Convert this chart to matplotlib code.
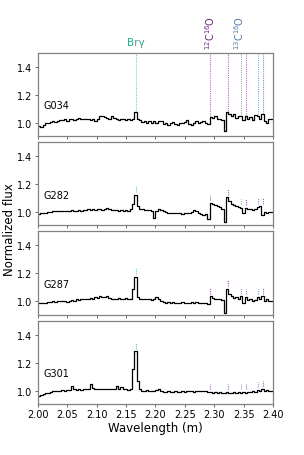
import numpy as np
import matplotlib
matplotlib.use("Agg")
import matplotlib.pyplot as plt
from matplotlib.transforms import blended_transform_factory

# wavelength sampling (micron)
wave = np.linspace(2.002, 2.398, 100)

names = ["G034", "G282", "G287", "G301"]

g034 = [0.975, 0.97, 0.985, 1.0, 0.995, 1.005, 1.01, 1.005, 1.015, 1.02,
        1.02, 1.025, 1.015, 1.025, 1.03, 1.02, 1.03, 1.035, 1.025, 1.03,
        1.025, 1.03, 1.02, 1.025, 1.01, 1.025, 1.045, 1.05, 1.04, 1.035,
        1.03, 1.045, 1.035, 1.025, 1.02, 1.03, 1.025, 1.02, 1.025, 1.02,
        1.03, 1.08, 1.03, 1.02, 1.005, 1.015, 1.0, 1.01, 0.995, 1.01,
        0.995, 1.015, 1.01, 0.99, 1.0, 0.985, 0.995, 1.005, 0.99, 0.985,
        1.0, 0.995, 1.005, 1.02, 0.99, 0.985, 0.995, 1.01, 1.0, 1.005,
        1.01, 1.0, 0.99, 1.04, 1.035, 1.045, 1.03, 1.025, 1.02, 0.94,
        1.08, 1.065, 1.05, 1.06, 1.035, 1.045, 1.05, 1.02, 1.045, 1.03,
        1.04, 1.02, 1.055, 1.05, 1.03, 1.06, 1.01, 1.0, 1.03, 1.025]

g282 = [0.985, 0.99, 0.995, 0.995, 1.0, 1.0, 1.005, 1.005, 1.01, 1.005,
        1.01, 1.005, 1.01, 1.01, 1.015, 1.01, 1.01, 1.015, 1.01, 1.015,
        1.015, 1.02, 1.015, 1.02, 1.015, 1.02, 1.02, 1.015, 1.02, 1.03,
        1.025, 1.015, 1.015, 1.012, 1.01, 1.012, 1.01, 1.012, 1.01, 1.02,
        1.06, 1.125, 1.04, 1.025, 1.02, 1.015, 1.015, 1.015, 1.01, 0.955,
        1.005, 1.025, 1.015, 1.005, 1.0, 0.995, 0.995, 0.99, 0.995, 0.99,
        0.99, 0.985, 0.99, 0.995, 0.99, 1.0, 1.015, 1.01, 0.99, 0.985,
        0.98, 0.985, 0.95, 1.065, 1.055, 1.05, 1.04, 1.035, 1.025, 0.93,
        1.105, 1.08, 1.06, 1.05, 1.04, 1.035, 1.03, 0.99, 1.03, 1.02,
        1.02, 1.015, 1.025, 1.035, 1.04, 0.98, 1.0, 0.995, 1.0, 1.0]

g287 = [0.985, 0.985, 0.99, 0.99, 0.995, 0.995, 1.0, 0.995, 1.0, 1.0,
        1.0, 1.0, 0.995, 1.005, 1.01, 1.005, 1.015, 1.01, 1.02, 1.015,
        1.02, 1.015, 1.025, 1.02, 1.03, 1.025, 1.035, 1.03, 1.03, 1.035,
        1.025, 1.02, 1.015, 1.02, 1.025, 1.02, 1.02, 1.025, 1.015, 1.02,
        1.085, 1.175, 1.03, 1.02, 1.015, 1.015, 1.02, 1.015, 1.01, 1.015,
        1.03, 1.015, 1.0, 0.995, 0.99, 0.995, 0.99, 0.995, 0.99, 0.985,
        0.99, 0.995, 0.99, 0.985, 0.99, 0.995, 0.99, 0.995, 0.99, 0.985,
        0.99, 0.985, 0.98, 1.035, 1.025, 1.02, 1.02, 1.015, 1.01, 0.915,
        1.09, 1.05, 1.035, 1.025, 1.03, 1.02, 1.035, 0.99, 1.03, 1.01,
        1.015, 1.005, 1.01, 1.03, 1.015, 1.035, 1.0, 1.02, 1.005, 1.0]

g301 = [0.965, 0.97, 0.975, 0.98, 0.985, 0.99, 0.995, 0.995, 1.0, 1.0,
        1.005, 1.0, 1.005, 1.005, 1.035, 1.01, 1.005, 1.01, 1.005, 1.01,
        1.01, 1.015, 1.05, 1.02, 1.01, 1.015, 1.01, 1.015, 1.01, 1.015,
        1.01, 1.015, 1.01, 1.03, 1.015, 1.025, 1.015, 1.01, 1.005, 1.01,
        1.155, 1.28, 1.07, 1.01, 1.0, 1.0, 1.005, 1.0, 1.0, 1.0,
        1.005, 1.01, 0.995, 0.99, 0.99, 0.995, 0.99, 0.99, 0.995, 0.99,
        0.99, 0.995, 0.99, 0.995, 1.0, 0.995, 0.99, 0.995, 1.0, 1.0,
        1.0, 0.995, 0.99, 0.99, 0.985, 0.99, 0.985, 0.99, 0.985, 0.985,
        0.99, 0.985, 0.985, 0.99, 0.985, 0.99, 0.985, 0.99, 0.985, 0.99,
        0.99, 0.995, 0.99, 1.005, 0.995, 1.01, 1.0, 1.005, 0.995, 1.0]

spectra = [g034, g282, g287, g301]

# line positions (micron)
brg = 2.1661
co12 = [2.2935, 2.3227, 2.3535, 2.3829]
co13 = [2.3448, 2.3739]

c_brg = "#3aa58f"
c_co12 = "#6a2378"
c_co13 = "#4a78b0"

fig = plt.figure(figsize=(3.04, 4.56), dpi=100)
gs = fig.add_gridspec(4, 1, left=0.125, right=0.898, top=0.882, bottom=0.112,
                      hspace=0.072)

lines = [(brg, c_brg)] + [(w, c_co12) for w in co12] + [(w, c_co13) for w in co13]

for i, (name, flux) in enumerate(zip(names, spectra)):
    ax = fig.add_subplot(gs[i])
    flux = np.array(flux)
    ax.plot(wave, flux, color="k", lw=0.9, drawstyle="steps-mid")
    ax.set_xlim(2.0, 2.4)
    ax.set_ylim(0.905, 1.5)
    ax.set_yticks([1.0, 1.2, 1.4])
    ax.set_xticks(np.arange(2.0, 2.401, 0.05))
    ax.tick_params(labelsize=7, length=2.5, width=0.6, color="0.3", pad=1.5)
    for sp in ax.spines.values():
        sp.set_color("0.5")
        sp.set_linewidth(0.9)
    ax.text(2.010, 1.125, name, fontsize=7, ha="left", va="center")

    for w, c in lines:
        near = flux[np.abs(wave - w) < 0.005]
        top = near.max()
        if i == 0:
            ax.vlines(w, top + 0.005, 1.5, colors=c, lw=0.8, ls=(0, (1, 1)), alpha=0.6)
        else:
            ax.vlines(w, top + 0.02, top + 0.06, colors=c, lw=0.8, ls=(0, (1, 1)), alpha=0.7)

    if i < 3:
        ax.tick_params(labelbottom=False)
    else:
        ax.set_xticklabels([f"{v:.2f}" for v in np.arange(2.0, 2.401, 0.05)])
        ax.set_xlabel("Wavelength (m)", fontsize=8.5, labelpad=1)

    if i == 0:
        tr = blended_transform_factory(ax.transData, ax.transAxes)
        ax.text(brg, 1.07, "Br\u03b3", color=c_brg, fontsize=7.5, ha="center",
                va="bottom", transform=tr)
        ax.text(2.2925, 1.05, r"$^{12}$C$^{16}$O", color=c_co12, fontsize=7,
                rotation=90, ha="center", va="bottom", transform=tr)
        ax.text(2.3425, 1.05, r"$^{13}$C$^{16}$O", color=c_co13, fontsize=7,
                rotation=90, ha="center", va="bottom", transform=tr)

fig.text(0.03, 0.497, "Normalized flux", rotation=90, fontsize=8.5,
         ha="center", va="center")

fig.savefig("out.png", dpi=100)
